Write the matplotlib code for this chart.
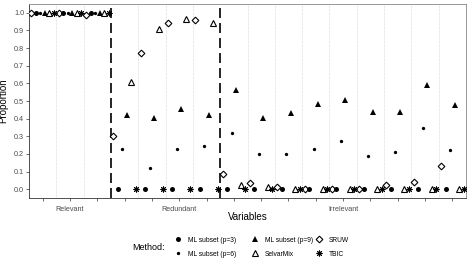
import matplotlib
matplotlib.use("Agg")
import matplotlib.pyplot as plt
import numpy as np
from matplotlib.lines import Line2D

plt.rcParams['font.family'] = ['Liberation Sans', 'DejaVu Sans']

# ---- data ----
variables = list(range(1, 17))
group_labels = {2: "Relevant", 6: "Redundant", 12: "Irrelevant"}
group_breaks = [3.5, 7.5]

methods = ["SRUW", "ML subset (p=3)", "ML subset (p=6)", "ML subset (p=9)", "SelvarMix", "TBIC"]
sruw = [1.0, 1.0, 0.99, 0.30, 0.77, 0.94, 0.96, 0.085, 0.034, 0.013, 0.0, 0.0, 0.0, 0.024, 0.041, 0.13]
ml3 = [1.0, 1.0, 1.0, 0.0, 0.0, 0.0, 0.0, 0.0, 0.0, 0.0, 0.0, 0.0, 0.0, 0.0, 0.0, 0.0]
ml6 = [1.0, 1.0, 1.0, 0.23, 0.12, 0.23, 0.245, 0.32, 0.20, 0.20, 0.23, 0.273, 0.19, 0.21, 0.345, 0.22]
ml9 = [1.0, 1.0, 1.0, 0.42, 0.405, 0.456, 0.42, 0.565, 0.405, 0.433, 0.484, 0.505, 0.44, 0.44, 0.593, 0.475]
selvarmix = [1.0, 1.0, 1.0, 0.61, 0.91, 0.966, 0.945, 0.024, 0.013, 0.0, 0.0, 0.0, 0.0, 0.0, 0.0, 0.0]
tbic = [1.0, 1.0, 1.0, 0.0, 0.0, 0.0, 0.0, 0.0, 0.0, 0.0, 0.0, 0.0, 0.0, 0.0, 0.0, 0.0]
series = [sruw, ml3, ml6, ml9, selvarmix, tbic]

styles = {
    "SRUW": dict(marker="D", ms=3.4, mfc="white", mec="black", mew=0.8),
    "ML subset (p=3)": dict(marker="o", ms=3.6, mfc="black", mec="black", mew=0.0),
    "ML subset (p=6)": dict(marker="o", ms=2.4, mfc="black", mec="black", mew=0.0),
    "ML subset (p=9)": dict(marker="^", ms=3.8, mfc="black", mec="black", mew=0.0),
    "SelvarMix": dict(marker="^", ms=3.8, mfc="white", mec="black", mew=0.8),
    "TBIC": dict(marker=(8, 2, 0), ms=4.2, mfc="black", mec="black", mew=0.7),
}

W, H = 471, 270
fig = plt.figure(figsize=(W/100, H/100), dpi=100)
ax = fig.add_axes([29/W, 1-198/H, (466-29)/W, (198-4)/H])

x = np.array(variables, dtype=float)
step = 0.165
for j, (m, vals) in enumerate(zip(methods, series)):
    ax.plot(x + (j - 2.5) * step, vals, linestyle="none", color="black", **styles[m], zorder=3)

# grid lines between variables
for b in np.arange(1.5, 16.5, 1.0):
    if b in group_breaks:
        ax.axvline(b, color="black", lw=1.2, linestyle=(0, (6, 3)), zorder=2)
    else:
        ax.axvline(b, color="#d0d0d0", lw=0.5, linestyle=(0, (1, 1)), zorder=1)

ax.set_xlim(0.5, 16.5)
ax.set_ylim(-0.05, 1.05)
ax.set_yticks(np.round(np.arange(0, 1.01, 0.1), 1))
ax.set_yticklabels([f"{v:.1f}" for v in np.arange(0, 1.01, 0.1)])
ax.set_xticks(variables)
ax.set_xticklabels([group_labels.get(v, "") for v in variables])
ax.tick_params(axis="both", length=2, width=0.5, colors="#333333", labelsize=5.2, pad=1.5)
ax.tick_params(axis="x", labelcolor="#4d4d4d", pad=4)
ax.tick_params(axis="y", labelcolor="#4d4d4d")
for s in ["left", "bottom"]:
    ax.spines[s].set_color("#333333")
    ax.spines[s].set_linewidth(0.6)
for s in ["top", "right"]:
    ax.spines[s].set_color("#888888")
    ax.spines[s].set_linewidth(0.6)

ax.set_xlabel("Variables", fontsize=7, labelpad=-1)
ax.set_ylabel("Proportion", fontsize=7, labelpad=4)

# legend: three columns placed like the reference
fs = 4.8
hl = 1.2
half_handle_px = hl * fs * 100 / 72 / 2
columns = [(["ML subset (p=3)", "ML subset (p=6)"], 178),
           (["ML subset (p=9)", "SelvarMix"], 255),
           (["SRUW", "TBIC"], 319)]
for labels, mx in columns:
    handles = [Line2D([], [], linestyle="none", color="black", **styles[m]) for m in labels]
    fig.legend(handles, labels, loc="center left",
               bbox_to_anchor=((mx - half_handle_px) / W, 1 - 247 / H),
               frameon=False, fontsize=fs, handlelength=hl, handletextpad=0.85,
               labelspacing=1.05, borderpad=0, borderaxespad=0)
fig.text(149/W, 1-248/H, "Method:", fontsize=6.5, ha="center", va="center")

fig.savefig("out.png", dpi=100)
